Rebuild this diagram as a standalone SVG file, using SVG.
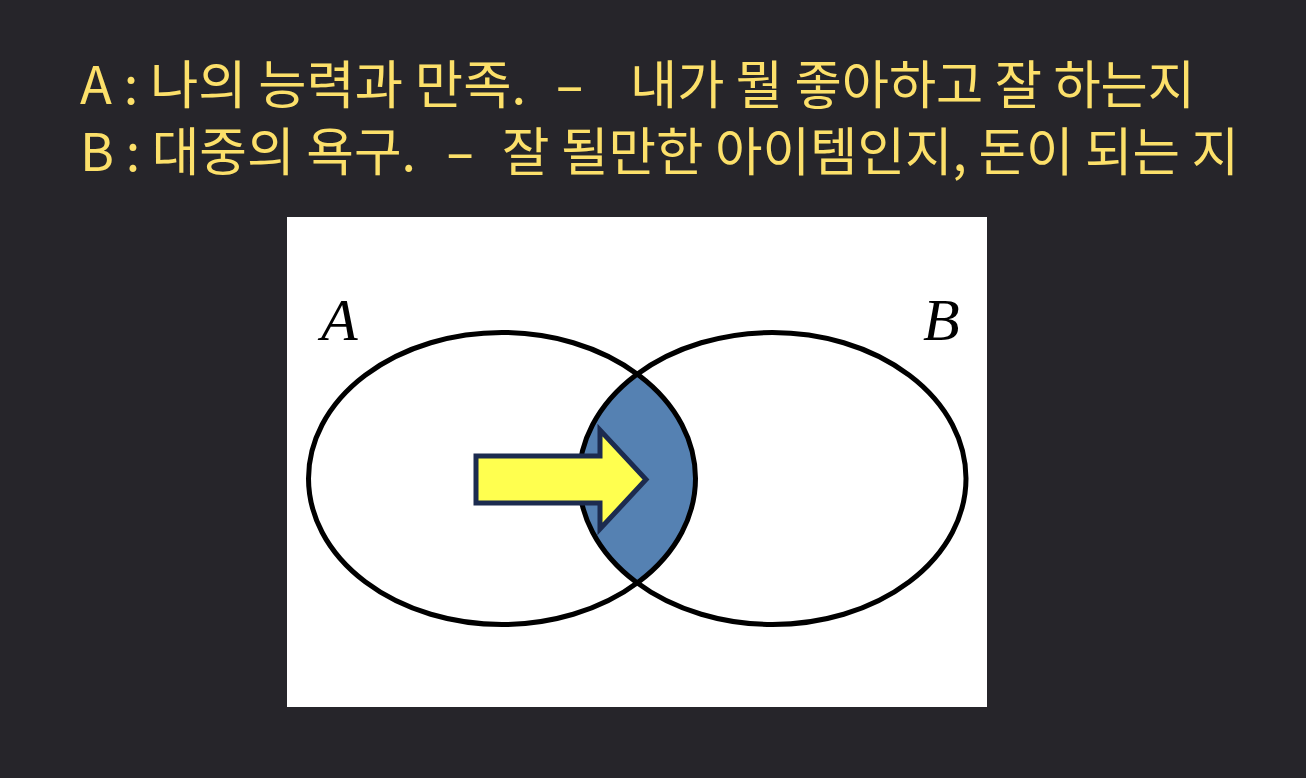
<svg xmlns="http://www.w3.org/2000/svg" width="1306" height="778" viewBox="0 0 1306 778">
  <style>
    .hdr { font-family: "Noto Sans CJK KR", "Noto Sans", sans-serif; font-size: 52px; font-weight: 400; fill: #FCE06A; white-space: pre; }
    .set { fill: none; stroke: #000000; stroke-width: 5; }
    .lbl { font-family: "Liberation Serif", serif; font-style: italic; font-size: 60px; fill: #000000; }
  </style>
  <rect x="0" y="0" width="1306" height="778" fill="#26252A"/>
  <g id="header">
    <text class="hdr" x="80" y="104" textLength="446" lengthAdjust="spacingAndGlyphs">A : 나의 능력과 만족.</text>
    <text class="hdr" transform="translate(569.5,104) scale(1.7,1)" text-anchor="middle">-</text>
    <text class="hdr" x="630" y="104" textLength="565" lengthAdjust="spacingAndGlyphs">내가 뭘 좋아하고 잘 하는지</text>
    <text class="hdr" x="80" y="171" textLength="336" lengthAdjust="spacingAndGlyphs">B : 대중의 욕구.</text>
    <text class="hdr" transform="translate(460,171) scale(1.7,1)" text-anchor="middle">-</text>
    <text class="hdr" x="502" y="171" textLength="737" lengthAdjust="spacingAndGlyphs">잘 될만한 아이템인지, 돈이 되는 지</text>
  </g>
  <g id="canvas">
    <rect x="287" y="217" width="700" height="490" fill="#FFFFFF"/>
  </g>
  <g id="intersection">
    <path d="M 637.25 374.1 A 193.5 146 0 0 1 637.25 582.9 A 193.5 146 0 0 1 637.25 374.1 Z" fill="#5581B2"/>
  </g>
  <g id="setA">
    <ellipse class="set" cx="502" cy="478.5" rx="193.5" ry="146"/>
    <text class="lbl" x="321" y="340">A</text>
  </g>
  <g id="setB">
    <ellipse class="set" cx="772.5" cy="478.5" rx="193.5" ry="146"/>
    <text class="lbl" x="923" y="340">B</text>
  </g>
  <g id="connectors">
    <polygon points="476,456 600,456 600,430 646,479.5 600,529 600,503 476,503" fill="#FFFF4F" stroke="#1C2B4F" stroke-width="5" stroke-linejoin="miter"/>
  </g>
</svg>
